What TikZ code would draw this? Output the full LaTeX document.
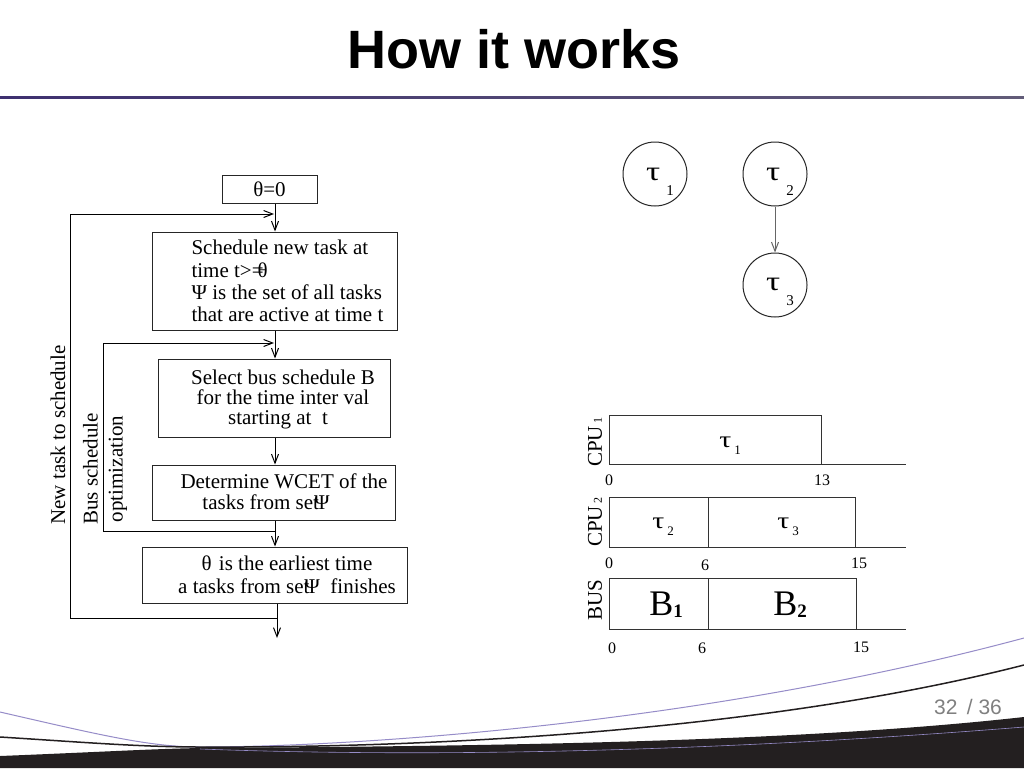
\documentclass[tikz,border=0pt]{standalone}
\usepackage{fontspec}
\setmainfont{Liberation Serif}
\newfontfamily\slidefont{Liberation Sans}
\usetikzlibrary{arrows.meta}
\definecolor{rulepurple}{RGB}{62,48,112}
\definecolor{footlav}{RGB}{150,140,200}
\definecolor{footblack}{RGB}{35,31,32}
\tikzset{
  stepbox/.style={draw=black!85, line width=1pt, inner sep=0pt},
  steptext/.style={inner sep=0pt, font=\fontsize{21}{22.3}\selectfont},
  sidelabel/.style={rotate=90, inner sep=0pt, font=\fontsize{21}{25}\selectfont},
  task/.style={circle, draw=black!85, line width=1pt, minimum size=64pt, inner sep=0pt},
  slot/.style={draw=black!80, line width=1pt},
  ticklabel/.style={inner sep=0pt, font=\fontsize{16}{16}\selectfont},
  rowlabel/.style={rotate=90, inner sep=0pt, font=\fontsize{21}{21}\selectfont}
}
\newcommand{\circtau}[1]{\kern10pt\rule{0pt}{27pt}\scalebox{1.3}[1]{\fontsize{27}{27}\selectfont τ}\hspace{6pt}\raisebox{-15pt}{\fontsize{15}{15}\selectfont #1}}
\newcommand{\slottau}[1]{\scalebox{1.3}[1]{\fontsize{23}{23}\selectfont τ}\hspace{3pt}\raisebox{-7pt}{\fontsize{13}{13}\selectfont #1}}
\newcommand{\buslab}[1]{{\fontsize{36}{36}\selectfont B}\raisebox{-2pt}{\fontsize{19}{19}\selectfont\bfseries #1}}
\begin{document}
\begin{tikzpicture}[x=1pt, y=-1pt, >={Straight Barb[length=9pt,width=7pt]}, line width=1pt]
  \useasboundingbox (0,0) rectangle (1024,768);
  \fill[white] (0,0) rectangle (1024,768);
  % title
  \node[inner sep=0pt, font=\slidefont\bfseries\fontsize{54}{54}\selectfont] (title) at (514,49) {How it works};
  \shade[left color=rulepurple, right color=rulepurple!45!gray] (0,96) rectangle (1024,98.5);
  % flow chart
  \coordinate (col) at (275,0);
  \node[stepbox, minimum width=95pt, minimum height=28pt, font=\fontsize{21}{22}\selectfont] (s0) at (269.5,189) {θ=0};
  \node[stepbox, minimum width=245pt, minimum height=98pt] (s1) at (274.5,281) {};
  \node[steptext, align=left, anchor=west] (s1t) at (191,281) {Schedule new task at\\time t>=\kern-6ptθ\\Ψ is the set of all tasks\\that are active at time t};
  \node[stepbox, minimum width=232pt, minimum height=78pt] (s2) at (274,398) {};
  \node[steptext, align=center, font=\fontsize{21}{20}\selectfont] (s2t) at (283,399) {Select bus schedule B\\for the time inter val\\starting at\ \ t\hspace*{10pt}};
  \node[stepbox, minimum width=243pt, minimum height=55pt] (s3) at (273.5,492.5) {};
  \node[steptext, align=center, font=\fontsize{21}{21}\selectfont] (s3t) at (284,492) {Determine WCET of the\\tasks from set\kern-5ptΨ\hspace*{36pt}};
  \node[stepbox, minimum width=265pt, minimum height=56pt] (s4) at (274.5,575) {};
  \node[steptext, align=center, font=\fontsize{21}{23}\selectfont] (s4t) at (287,575) {θ\hspace{2pt}\ is the earliest time\\a tasks from set\kern-5ptΨ\ \ finishes};
  \draw[->] (s0.south -| col) -- (s1.north -| col);
  \draw[->] (s1.south -| col) -- (s2.north -| col);
  \draw[->] (s2.south -| col) -- (s3.north -| col);
  \draw[->] (s3.south -| col) -- (s4.north -| col);
  \coordinate (flowend) at (277,638);
  \draw[->] (s4.south -| flowend) -- (flowend);
  % loops back
  \coordinate (outerout) at (277,618);
  \coordinate (outerin) at (274,214);
  \coordinate (innerout) at (276,531);
  \coordinate (innerin) at (274,343);
  \draw[->] (outerout) -| (70,214) -- (outerin);
  \draw[->] (innerout) -| (103,343) -- (innerin);
  \node[sidelabel] (newtask) at (58,435) {New task to schedule};
  \node[sidelabel, align=center] (busopt) at (105,469) {Bus schedule\\optimization};
  % task graph
  \node[task] (t1) at (655,174) {\circtau{1}};
  \node[task] (t2) at (775,174) {\circtau{2}};
  \node[task] (t3) at (775,285) {\circtau{3}};
  \draw[->, black!60] (t2) -- (t3);
  % schedule
  \draw[slot] (609,415) rectangle (821,464);
  \draw[slot] (609,464) -- (906,464);
  \draw[slot] (609,497) rectangle (855,547);
  \draw[slot] (708,497) -- (708,547);
  \draw[slot] (609,547) -- (906,547);
  \draw[slot] (609,578) rectangle (856,629);
  \draw[slot] (708,578) -- (708,629);
  \draw[slot] (609,629) -- (906,629);
  \node[inner sep=0pt] (g1) at (730,446) {\slottau{1}};
  \node[inner sep=0pt] (g2) at (663,527) {\slottau{2}};
  \node[inner sep=0pt] (g3) at (788,527) {\slottau{3}};
  \node[inner sep=0pt] (b1) at (666,605) {\buslab{1}};
  \node[inner sep=0pt] (b2) at (790,605) {\buslab{2}};
  \node[rowlabel] (cpu1) at (595,442) {CPU\hspace{3pt}{\fontsize{12}{12}\selectfont 1}};
  \node[rowlabel] (cpu2) at (595,522) {CPU\hspace{3pt}{\fontsize{12}{12}\selectfont 2}};
  \node[rowlabel] (bus) at (595,600) {BUS};
  \node[ticklabel] (a0) at (609,480) {0};
  \node[ticklabel] (a13) at (822,480) {13};
  \node[ticklabel] (c0) at (609,563) {0};
  \node[ticklabel] (c6) at (705,565) {6};
  \node[ticklabel] (c15) at (859,563) {15};
  \node[ticklabel] (d0) at (612,648) {0};
  \node[ticklabel] (d6) at (702,648) {6};
  \node[ticklabel] (d15) at (861,647) {15};
  % footer
  \fill[footblack] (0,768) -- (0,756) .. controls (100,752) and (150,749) .. (200,748) .. controls (500,746) and (800,742) .. (1024,717) -- (1024,768) -- cycle;
  \draw[footlav, line width=0.6pt] (200,749) .. controls (500,760) and (800,745) .. (1024,727);
  \draw[footlav, line width=1pt] (0,712) .. controls (100,735) and (150,747) .. (200,747) .. controls (350,747) and (700,725) .. (1024,638);
  \draw[footblack, line width=1.5pt] (0,737) .. controls (80,742) and (140,747) .. (200,747) .. controls (400,748) and (750,735) .. (1024,665);
  \node[inner sep=0pt, text=gray, font=\slidefont\fontsize{21}{21}\selectfont] (page) at (968,707) {32\ \,/\ 36};
\end{tikzpicture}
\end{document}
